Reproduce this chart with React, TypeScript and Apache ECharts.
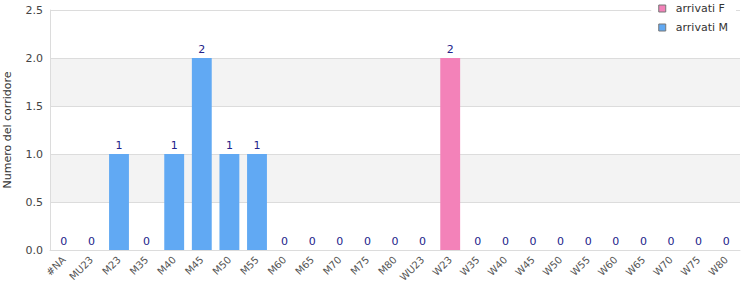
import React, { useEffect, useRef } from "react";
import * as echarts from "echarts";

const categories = ["#NA","MU23","M23","M35","M40","M45","M50","M55","M60","M65","M70","M75","M80","WU23","W23","W35","W40","W45","W50","W55","W60","W65","W70","W75","W80"];
const arrivatiM = [0,0,1,0,1,2,1,1,0,0,0,0,0,0,0,0,0,0,0,0,0,0,0,0,0];
const arrivatiF = [0,0,0,0,0,0,0,0,0,0,0,0,0,0,2,0,0,0,0,0,0,0,0,0,0];
const yTicks = [0, 0.5, 1.0, 1.5, 2.0, 2.5];

const FONT = "DejaVu Sans";
const LABEL_COLOR = "#22228a";

export default function App() {
  const ref = useRef<HTMLDivElement>(null);
  useEffect(() => {
    const chart = echarts.init(ref.current!, null, { renderer: "svg" });
    const isW = (c: string) => c.startsWith("W");
    const mData = arrivatiM.map((v, i) => ({
      value: v,
      label: { show: !isW(categories[i]) },
    }));
    const fData = arrivatiF.map((v, i) => ({
      value: v,
      label: { show: isW(categories[i]) },
    }));
    const mkLabel = () => ({
      position: "top",
      color: LABEL_COLOR,
      fontSize: 11,
      fontFamily: FONT,
      distance: 3,
    });
    chart.setOption({
      animation: false,
      textStyle: { fontFamily: FONT },
      grid: {
        left: 50,
        right: 10,
        top: 10,
        bottom: 50,
        show: false,
        containLabel: false,
        outerBoundsMode: "none",
      },
      legend: {
        orient: "vertical",
        right: 14,
        top: 0,
        backgroundColor: "#ffffff",
        padding: [3, 8, 3, 7],
        itemWidth: 7,
        itemHeight: 7,
        itemGap: 8,
        icon: "rect",
        textStyle: { fontSize: 11, color: "#333", fontFamily: FONT, padding: [0, 0, 0, 5] },
        data: [
          { name: "arrivati F", itemStyle: { borderColor: "#777", borderWidth: 1 } },
          { name: "arrivati M", itemStyle: { borderColor: "#777", borderWidth: 1 } },
        ],
        z: 10,
      },
      xAxis: {
        type: "category",
        data: categories,
        axisLine: { show: true, lineStyle: { color: "#dcdcdc" } },
        axisTick: { show: false },
        axisLabel: {
          show: true,
          rotate: 45,
          interval: 0,
          hideOverlap: false,
          fontSize: 10,
          color: "#555",
          fontFamily: FONT,
          margin: 8,
        },
      },
      yAxis: {
        type: "value",
        min: yTicks[0],
        max: yTicks[yTicks.length - 1],
        interval: 0.5,
        name: "Numero del corridore",
        nameLocation: "middle",
        nameGap: 37,
        nameTextStyle: { fontSize: 11, color: "#333", fontFamily: FONT },
        axisLine: { show: true, lineStyle: { color: "#dcdcdc" } },
        axisTick: { show: false },
        axisLabel: {
          fontSize: 11,
          color: "#444",
          fontFamily: FONT,
          margin: 7,
          formatter: (v: number) => v.toFixed(1),
        },
        splitLine: { show: true, lineStyle: { color: "#dcdcdc" } },
        splitArea: { show: true, areaStyle: { color: ["#ffffff", "#f3f3f3"] } },
      },
      series: [
        {
          name: "arrivati M",
          type: "bar",
          stack: "tot",
          barWidth: "72%",
          itemStyle: { color: "#61a9f3" },
          label: mkLabel(),
          data: mData,
        },
        {
          name: "arrivati F",
          type: "bar",
          stack: "tot",
          barWidth: "72%",
          itemStyle: { color: "#f382b9" },
          label: mkLabel(),
          data: fData,
        },
      ],
      graphic: [
        {
          type: "rect",
          shape: { x: 739.5, y: 10, width: 0, height: 240 },
          style: { stroke: "#dcdcdc", lineWidth: 1, fill: "none" },
          silent: true,
        },
      ],
    });
    return () => chart.dispose();
  }, []);
  return (
    <div style={{ position: "fixed", left: 0, top: 0, width: 750, height: 300, background: "#fff" }}>
      <div ref={ref} style={{ width: 750, height: 300 }} />
    </div>
  );
}
